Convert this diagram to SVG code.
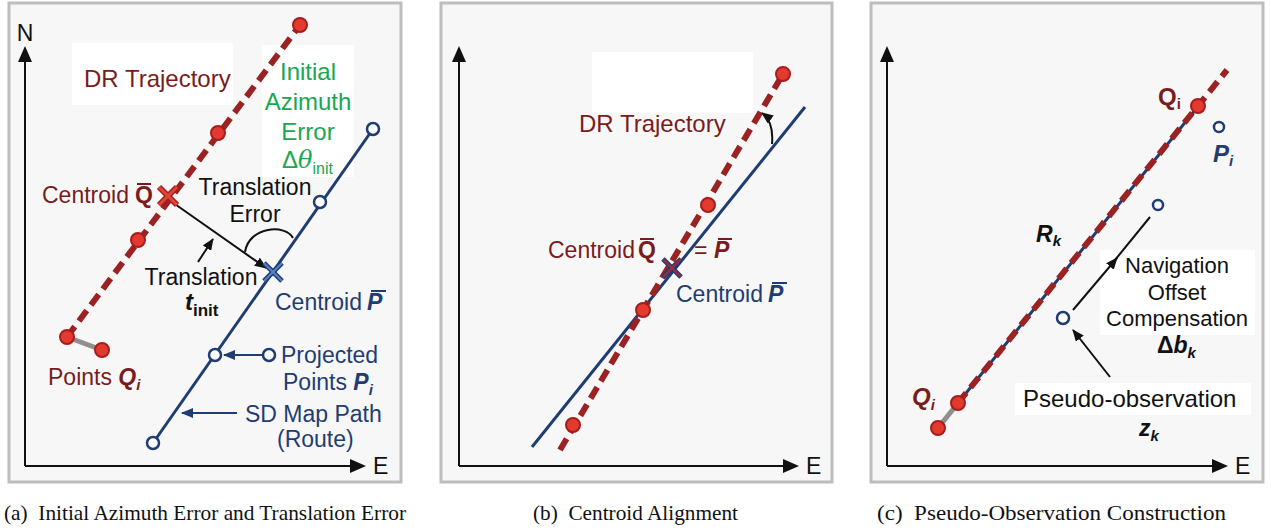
<svg xmlns="http://www.w3.org/2000/svg" width="1271" height="531" viewBox="0 0 1271 531">
<defs>
<style>
.frame{fill:#f7f7f7;stroke:#bdbdbd;stroke-width:3}
.wbox{fill:#ffffff}
.axis{stroke:#111;stroke-width:2;fill:none}
.ahead{fill:#111}
.dr{stroke:#9a2222;stroke-width:6;stroke-dasharray:13 7;fill:none}
.route{stroke:#1f3d73;stroke-width:3;fill:none}
.rc{fill:#e23a2e;stroke:#a81c1c;stroke-width:2}
.oc{fill:#fff;stroke:#1f3d73;stroke-width:2.5}
.gray{stroke:#8f8f8f;stroke-width:5}
.blk{stroke:#111;stroke-width:2;fill:none}
.nv{stroke:#1f3d73;stroke-width:2;fill:none}
text{font-family:"Liberation Sans",Arial,sans-serif;font-size:23px}
.t-red{fill:#7a1c1c}
.t-nv{fill:#1f3d73}
.t-gr{fill:#18a850}
.t-bk{fill:#111}
.bi{font-weight:bold;font-style:italic}
.b{font-weight:bold}
.sub{font-size:15px}
.cap{font-family:"Liberation Serif","Times New Roman",serif;font-size:21px;fill:#111}
.bar{stroke-width:2}
</style>
<marker id="ab" viewBox="0 0 12 10" refX="11" refY="5" markerWidth="12" markerHeight="10" markerUnits="userSpaceOnUse" orient="auto"><path d="M0,0 L12,5 L0,10 Z" fill="#111"/></marker>
<marker id="an" viewBox="0 0 12 10" refX="11" refY="5" markerWidth="12" markerHeight="10" markerUnits="userSpaceOnUse" orient="auto"><path d="M0,0 L12,5 L0,10 Z" fill="#1f3d73"/></marker>
</defs>

<!-- ===== Panel (a) ===== -->
<g id="panel-a">
<rect class="frame" x="9" y="3" width="392" height="479"/>
<rect class="wbox" x="72" y="43" width="161" height="62"/>
<rect class="wbox" x="262" y="45" width="92" height="132"/>
<g id="a-axes">
<line class="axis" x1="25" y1="466" x2="25" y2="60"/>
<polygon class="ahead" points="25,46 18,62 32,62"/>
<line class="axis" x1="25" y1="466" x2="352" y2="466"/>
<polygon class="ahead" points="366,466 350,459 350,473"/>
<text class="t-bk" x="25" y="41" text-anchor="middle">N</text>
<text class="t-bk" x="373" y="474">E</text>
</g>
</g>

<g id="connectors-a">
<line class="dr" x1="67" y1="337" x2="300" y2="25"/>
<line class="gray" x1="67" y1="337" x2="102" y2="350"/>
<line class="route" x1="153" y1="443" x2="373" y2="129"/>
<line class="blk" x1="172" y1="202" x2="266" y2="268" marker-end="url(#ab)"/>
<line class="blk" x1="198" y1="262" x2="213" y2="239" marker-end="url(#ab)"/>
<path class="blk" d="M245,252 C249,226 286,224 293,238"/>
<line class="nv" x1="263" y1="355" x2="224" y2="355" marker-end="url(#an)"/>
<line class="nv" x1="237" y1="413" x2="182" y2="413" marker-end="url(#an)"/>
</g>

<g id="a-dr-points">
<circle class="rc" cx="300" cy="25" r="7"/>
<circle class="rc" cx="218" cy="133" r="7"/>
<circle class="rc" cx="138" cy="240" r="7"/>
<circle class="rc" cx="67" cy="337" r="7"/>
<circle class="rc" cx="102" cy="350" r="7"/>
</g>
<g id="a-route-points">
<circle class="oc" cx="373" cy="129" r="6"/>
<circle class="oc" cx="320" cy="202" r="6"/>
<circle class="oc" cx="215" cy="355" r="6"/>
<circle class="oc" cx="153" cy="443" r="6"/>
<circle class="oc" cx="269" cy="355" r="6"/>
</g>
<g id="a-centroid-q">
<line x1="159" y1="187" x2="177" y2="205" stroke="#a81c1c" stroke-width="6"/>
<line x1="177" y1="187" x2="159" y2="205" stroke="#a81c1c" stroke-width="6"/>
<line x1="159" y1="187" x2="177" y2="205" stroke="#e0453a" stroke-width="3"/>
<line x1="177" y1="187" x2="159" y2="205" stroke="#e0453a" stroke-width="3"/>
</g>
<g id="a-centroid-p">
<line x1="264" y1="263" x2="282" y2="281" stroke="#1f3d73" stroke-width="5"/>
<line x1="282" y1="263" x2="264" y2="281" stroke="#1f3d73" stroke-width="5"/>
<line x1="264" y1="263" x2="282" y2="281" stroke="#5b82c0" stroke-width="2"/>
<line x1="282" y1="263" x2="264" y2="281" stroke="#5b82c0" stroke-width="2"/>
</g>

<g id="a-labels">
<text class="t-red" x="84" y="87" style="font-size:24px">DR Trajectory</text>
<g id="a-azimuth-label">
<text class="t-gr" x="308" y="80" text-anchor="middle" style="font-size:24px">Initial</text>
<text class="t-gr" x="308" y="110" text-anchor="middle" style="font-size:24px">Azimuth</text>
<text class="t-gr" x="308" y="140" text-anchor="middle" style="font-size:24px">Error</text>
<text class="t-gr" x="282" y="168" style="font-size:24px">Δ<tspan style="font-family:'DejaVu Serif',serif;font-style:italic">θ</tspan><tspan dy="6" style="font-size:16px">init</tspan></text>
</g>
<g id="a-centroid-q-label">
<text class="t-red" x="42" y="203">Centroid</text>
<text class="t-red b" x="135" y="203">Q</text>
<line class="bar" x1="137" y1="184" x2="151" y2="184" stroke="#7a1c1c"/>
</g>
<g id="a-translation-error">
<text class="t-bk" x="255" y="195" text-anchor="middle">Translation</text>
<text class="t-bk" x="255" y="222" text-anchor="middle">Error</text>
</g>
<g id="a-translation">
<text class="t-bk" x="201" y="285" text-anchor="middle">Translation</text>
<text class="t-bk bi" x="185" y="310" style="font-size:24px">t<tspan class="b" style="font-style:normal;font-size:17px" dy="6">init</tspan></text>
</g>
<g id="a-centroid-p-label">
<text class="t-nv" x="275" y="310">Centroid</text>
<text class="t-nv bi" x="367" y="310">P</text>
<line class="bar" x1="371" y1="291" x2="386" y2="291" stroke="#1f3d73"/>
</g>
<g id="a-projected">
<text class="t-nv" x="281" y="363">Projected</text>
<text class="t-nv" x="283" y="390">Points <tspan class="bi">P</tspan><tspan class="bi sub" dy="5">i</tspan></text>
</g>
<g id="a-sdmap">
<text class="t-nv" x="245" y="422">SD Map Path</text>
<text class="t-nv" x="277" y="447">(Route)</text>
</g>
<text class="t-red" x="48" y="385">Points <tspan class="bi">Q</tspan><tspan class="bi sub" dy="5">i</tspan></text>
</g>

<!-- ===== Panel (b) ===== -->
<g id="panel-b">
<rect class="frame" x="441" y="3" width="391" height="479"/>
<rect class="wbox" x="592" y="52" width="161" height="61"/>
<g id="b-axes">
<line class="axis" x1="459" y1="466" x2="459" y2="60"/>
<polygon class="ahead" points="459,46 452,62 466,62"/>
<line class="axis" x1="459" y1="466" x2="785" y2="466"/>
<polygon class="ahead" points="799,466 783,459 783,473"/>
<text class="t-bk" x="806" y="474">E</text>
</g>
</g>
<g id="connectors-b">
<line class="route" x1="532" y1="447" x2="805" y2="107"/>
<line class="dr" x1="560" y1="450" x2="783" y2="74"/>
<path class="blk" d="M772,144 Q774,122 762,113" marker-end="url(#ab)"/>
</g>
<g id="b-points">
<circle class="rc" cx="783" cy="74" r="7"/>
<circle class="rc" cx="708" cy="205" r="7"/>
<circle class="rc" cx="643" cy="310" r="7"/>
<circle class="rc" cx="573" cy="425" r="7"/>
</g>
<g id="b-centroid">
<line x1="663" y1="259" x2="681" y2="277" stroke="#1f3d73" stroke-width="5"/>
<line x1="681" y1="259" x2="663" y2="277" stroke="#1f3d73" stroke-width="5"/>
<line x1="663" y1="259" x2="681" y2="277" stroke="#a42a3a" stroke-width="2"/>
<line x1="681" y1="259" x2="663" y2="277" stroke="#a42a3a" stroke-width="2"/>
</g>
<g id="b-labels">
<text class="t-red" x="579" y="132" style="font-size:24px">DR Trajectory</text>
<g id="b-centroid-eq">
<text class="t-red" x="548" y="258">Centroid</text>
<text class="t-red b" x="638" y="258">Q</text>
<text class="t-red" x="694" y="258">=</text>
<text class="t-red bi" x="714" y="258">P</text>
<line class="bar" x1="640" y1="239" x2="654" y2="239" stroke="#7a1c1c"/>
<line class="bar" x1="718" y1="239" x2="732" y2="239" stroke="#7a1c1c"/>
</g>
<g id="b-centroid-p">
<text class="t-nv" x="676" y="302">Centroid</text>
<text class="t-nv bi" x="768" y="302">P</text>
<line class="bar" x1="772" y1="283" x2="787" y2="283" stroke="#1f3d73"/>
</g>
</g>

<!-- ===== Panel (c) ===== -->
<g id="panel-c">
<rect class="frame" x="871" y="3" width="392" height="479"/>
<rect class="wbox" x="1100" y="250" width="155" height="85"/>
<rect class="wbox" x="1015" y="383" width="236" height="32"/>
<g id="c-axes">
<line class="axis" x1="887" y1="466" x2="887" y2="60"/>
<polygon class="ahead" points="887,46 880,62 894,62"/>
<line class="axis" x1="887" y1="466" x2="1214" y2="466"/>
<polygon class="ahead" points="1228,466 1212,459 1212,473"/>
<text class="t-bk" x="1235" y="474">E</text>
</g>
</g>
<g id="connectors-c">
<line class="gray" x1="938" y1="428" x2="958" y2="403"/>
<line stroke="#1f3d73" stroke-width="3" x1="958" y1="403" x2="1200" y2="104"/>
<line class="dr" x1="958" y1="403" x2="1227" y2="70"/>
<line class="blk" x1="1073" y1="310" x2="1117" y2="258" marker-end="url(#ab)"/>
<line class="blk" x1="1115" y1="260" x2="1150" y2="217"/>
<line class="blk" x1="1110" y1="377" x2="1073" y2="330" marker-end="url(#ab)"/>
</g>
<g id="c-points">
<circle class="rc" cx="1198" cy="106" r="7"/>
<circle class="rc" cx="958" cy="403" r="7"/>
<circle class="rc" cx="938" cy="428" r="7"/>
<circle class="oc" cx="1219" cy="127" r="5"/>
<circle class="oc" cx="1158" cy="205" r="5"/>
<circle class="oc" cx="1063" cy="318" r="6"/>
</g>
<g id="c-labels">
<text class="t-red b" x="1158" y="105" style="font-size:24px">Q<tspan class="sub" dy="4">i</tspan></text>
<text class="t-nv bi" x="1213" y="162" style="font-size:24px">P<tspan class="sub" dy="4">i</tspan></text>
<text class="t-bk bi" x="1036" y="242">R<tspan class="sub" dy="4">k</tspan></text>
<g id="c-nav-label">
<text class="t-bk" x="1177" y="273" text-anchor="middle" style="font-size:22px">Navigation</text>
<text class="t-bk" x="1177" y="300" text-anchor="middle" style="font-size:22px">Offset</text>
<text class="t-bk" x="1177" y="326" text-anchor="middle" style="font-size:22px">Compensation</text>
<text class="t-bk b" x="1157" y="353" style="font-size:23px">Δ<tspan class="bi">b</tspan><tspan class="bi sub" dy="5">k</tspan></text>
</g>
<g id="c-pseudo-label">
<text class="t-bk" x="1023" y="407" style="font-size:24px">Pseudo-observation</text>
<text class="t-bk bi" x="1139" y="436">z<tspan class="sub" dy="5">k</tspan></text>
</g>
<text class="t-red bi" x="912" y="405" style="font-size:24px">Q<tspan class="sub" dy="5">i</tspan></text>
</g>

<!-- ===== Captions ===== -->
<g id="captions">
<text class="cap" x="4" y="520" xml:space="preserve" textLength="402" lengthAdjust="spacingAndGlyphs">(a)  Initial Azimuth Error and Translation Error</text>
<text class="cap" x="533" y="520" xml:space="preserve" textLength="205" lengthAdjust="spacingAndGlyphs">(b)  Centroid Alignment</text>
<text class="cap" x="877" y="520" xml:space="preserve" textLength="349" lengthAdjust="spacingAndGlyphs">(c)  Pseudo-Observation Construction</text>
</g>
</svg>
